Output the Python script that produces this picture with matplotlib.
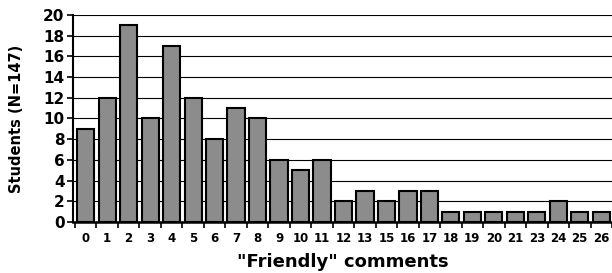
import numpy as np
import matplotlib
matplotlib.use("Agg")
import matplotlib.pyplot as plt

labels = ["0", "1", "2", "3", "4", "5", "6", "7", "8", "9", "10", "11", "12",
          "13", "15", "16", "17", "18", "19", "20", "21", "23", "24", "25", "26"]
students = [9, 12, 19, 10, 17, 12, 8, 11, 10, 6, 5, 6, 2,
            3, 2, 3, 3, 1, 1, 1, 1, 1, 2, 1, 1]

plt.rcParams['font.family'] = ['DejaVu Sans']

fig = plt.figure(figsize=(6.12, 2.73), dpi=100)
ax = fig.add_axes([0.119, 0.187, 0.881, 0.758])

x = np.arange(len(labels))
ax.bar(x, students, width=0.8, color='#8c8c8c', edgecolor='black', linewidth=1.5, zorder=3)

ax.set_ylim(0, 20)
ax.set_yticks(range(0, 21, 2))
ax.set_xlim(-0.6, 24.42)
ax.set_xticks(x)
ax.set_xticklabels(labels)
ax.set_xticks(np.arange(-0.5, len(labels), 1), minor=True)
ax.tick_params(axis='x', which='major', length=0, labelsize=8.5, pad=7)
ax.tick_params(axis='x', which='minor', length=4, width=1.2, direction='out')
ax.tick_params(axis='y', length=4, width=1.2, labelsize=11, pad=2)
for t in ax.get_xticklabels() + ax.get_yticklabels():
    t.set_fontweight('bold')

ax.yaxis.grid(True, color='black', linewidth=0.8, zorder=0)
for s in ['top', 'right']:
    ax.spines[s].set_visible(False)
ax.spines['left'].set_linewidth(1.5)
ax.spines['bottom'].set_linewidth(1.8)

ax.set_ylabel("Students (N=147)", fontsize=10.5, fontweight='bold', labelpad=14)
ax.set_xlabel('"Friendly" comments', fontsize=13, fontweight='bold', labelpad=6)

plt.savefig("out.png", dpi=100)
